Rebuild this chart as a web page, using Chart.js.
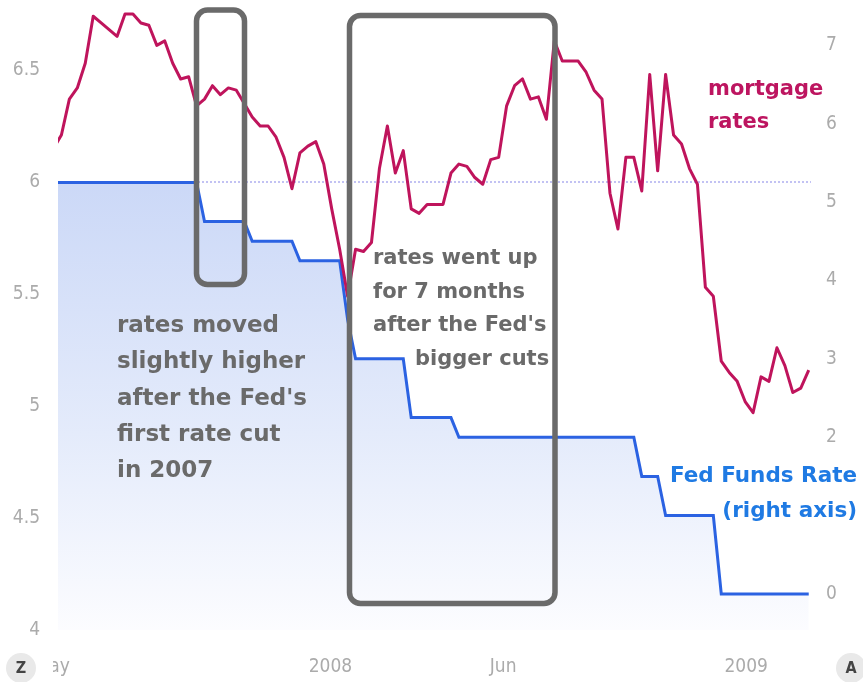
<!DOCTYPE html>
<html>
<head>
<meta charset="utf-8">
<script src="https://cdn.jsdelivr.net/npm/chart.js@4.4.0/dist/chart.umd.min.js"></script>
<style>
html,body{margin:0;padding:0;background:#fff;overflow:hidden}
#wrap{width:863px;height:682px;position:relative}
</style>
</head>
<body>
<div id="wrap"><canvas id="c" width="863" height="682"></canvas></div>
<script>
// ---------- DATA ----------
// Weekly observations (Thursdays), first week:
const firstWeek = '2007-05-10';
// 30-year mortgage rates (left axis), one value per week
const mortgageRates = [
  6.15, 6.21, 6.37, 6.42, 6.53, 6.74, 6.71, 6.68, 6.65, 6.75,
  6.75, 6.71, 6.70, 6.61, 6.63, 6.53, 6.46, 6.47, 6.34, 6.37,
  6.43, 6.39, 6.42, 6.41, 6.35, 6.29, 6.25, 6.25, 6.20, 6.11,
  5.97, 6.13, 6.16, 6.18, 6.08, 5.88, 5.70, 5.49, 5.70, 5.69,
  5.73, 6.06, 6.25, 6.04, 6.14, 5.88, 5.86, 5.90, 5.90, 5.90,
  6.04, 6.08, 6.07, 6.02, 5.99, 6.10, 6.11, 6.34, 6.43, 6.46,
  6.37, 6.38, 6.28, 6.63, 6.54, 6.54, 6.54, 6.49, 6.41, 6.37,
  5.95, 5.79, 6.11, 6.11, 5.96, 6.48, 6.05, 6.48, 6.21, 6.17,
  6.06, 5.99, 5.53, 5.49, 5.20, 5.15, 5.11, 5.02, 4.97, 5.13,
  5.11, 5.26, 5.18, 5.06, 5.08, 5.16
];
// Fed Funds target rate (right axis), same weeks
const fedFundsRate = [
  5.25, 5.25, 5.25, 5.25, 5.25, 5.25, 5.25, 5.25, 5.25, 5.25,
  5.25, 5.25, 5.25, 5.25, 5.25, 5.25, 5.25, 5.25, 5.25, 4.75,
  4.75, 4.75, 4.75, 4.75, 4.75, 4.50, 4.50, 4.50, 4.50, 4.50,
  4.50, 4.25, 4.25, 4.25, 4.25, 4.25, 4.25, 3.50, 3.00, 3.00,
  3.00, 3.00, 3.00, 3.00, 3.00, 2.25, 2.25, 2.25, 2.25, 2.25,
  2.25, 2.00, 2.00, 2.00, 2.00, 2.00, 2.00, 2.00, 2.00, 2.00,
  2.00, 2.00, 2.00, 2.00, 2.00, 2.00, 2.00, 2.00, 2.00, 2.00,
  2.00, 2.00, 2.00, 2.00, 1.50, 1.50, 1.50, 1.00, 1.00, 1.00,
  1.00, 1.00, 1.00, 1.00, 0.00, 0.00, 0.00, 0.00, 0.00, 0.00,
  0.00, 0.00, 0.00, 0.00, 0.00, 0.00
];
// dotted reference level (left axis)
const referenceLevel = 6;
// visible date window
const viewStart = '2007-05-14';
const viewEnd = '2009-03-07';
// x-axis tick labels
const xTickDates = ['2007-05-01', '2008-01-01', '2008-06-01', '2009-01-01'];
const xTickLabels = ['May', '2008', 'Jun', '2009'];
// y-axis ticks
const leftTicks = [4, 4.5, 5, 5.5, 6, 6.5];
const rightTicks = [0, 2, 3, 4, 5, 6, 7];
// annotation texts
const noteLeft = ['rates moved', 'slightly higher', "after the Fed's", 'first rate cut', 'in 2007'];
const noteRight = ['rates went up', 'for 7 months', "after the Fed's", 'bigger cuts'];
const mortgageLabel = ['mortgage', 'rates'];
const fedLabel = ['Fed Funds Rate', '(right axis)'];

// ---------- BUILD ----------
const DAY = 86400000;
const t0 = Date.parse(firstWeek);
const dayOf = s => (Date.parse(s) - t0) / DAY;
const weekX = mortgageRates.map((_, i) => i * 7);
const mortgagePts = mortgageRates.map((v, i) => ({x: weekX[i], y: v}));
const fedPts = fedFundsRate.map((v, i) => ({x: weekX[i], y: v}));
const xMin = dayOf(viewStart), xMax = dayOf(viewEnd);
const refPts = [{x: xMin, y: referenceLevel}, {x: xMax, y: referenceLevel}];

const axisFont = {family: "'DejaVu Sans Condensed','DejaVu Sans',sans-serif", size: 19};
const axisColor = '#ababab';
const noPad = s => { s.paddingTop = 0; s.paddingBottom = 0; s.paddingLeft = 0; s.paddingRight = 0; };

const notes = {
  id: 'notes',
  afterDraw(chart) {
    const c = chart.ctx;
    c.save();
    // boxes
    c.strokeStyle = '#6a6a6a';
    c.lineWidth = 5.5;
    c.beginPath(); c.roundRect(196.5, 10, 48, 274.5, 11); c.stroke();
    c.beginPath(); c.roundRect(349.5, 15.5, 205.5, 588, 11); c.stroke();
    // texts
    c.textBaseline = 'alphabetic';
    c.fillStyle = '#6a6a6a';
    c.textAlign = 'left';
    c.font = "bold 23px 'DejaVu Sans', sans-serif";
    const lb = [332, 368, 405, 441, 477];
    noteLeft.forEach((t, i) => c.fillText(t, 117, lb[i]));
    c.font = "bold 21px 'DejaVu Sans', sans-serif";
    const rb = [264, 298, 331, 365];
    const rx = [373, 373, 373, 415];
    noteRight.forEach((t, i) => c.fillText(t, rx[i], rb[i]));
    c.fillStyle = '#bd1560';
    c.font = "bold 21px 'DejaVu Sans', sans-serif";
    c.fillText(mortgageLabel[0], 708, 95);
    c.fillText(mortgageLabel[1], 708, 128);
    c.fillStyle = '#1f7ae3';
    c.textAlign = 'right';
    c.font = "bold 21.5px 'DejaVu Sans', sans-serif";
    c.fillText(fedLabel[0], 857, 482);
    c.fillText(fedLabel[1], 857, 517);
    // first x label is cut at the plot's left edge
    c.fillStyle = '#fff';
    c.fillRect(0, 645, 53, 37);
    // zoom buttons
    c.textAlign = 'center';
    c.textBaseline = 'middle';
    [[21, 'Z'], [851, 'A']].forEach(([x, s]) => {
      c.beginPath(); c.arc(x, 668, 15, 0, Math.PI * 2);
      c.fillStyle = '#e9e9e9'; c.fill();
      c.fillStyle = '#444';
      c.font = "bold 16px 'DejaVu Sans Condensed','DejaVu Sans',sans-serif";
      c.fillText(s, x, 669);
    });
    c.restore();
  }
};

new Chart(document.getElementById('c'), {
  type: 'line',
  data: {
    datasets: [
      {
        label: 'mortgage rates', data: mortgagePts, yAxisID: 'yL', order: 1,
        borderColor: '#bf145c', borderWidth: 3, pointRadius: 0, tension: 0,
        borderJoinStyle: 'round', fill: false
      },
      {
        label: 'Fed Funds Rate', data: fedPts, yAxisID: 'yR', order: 2,
        borderColor: '#2b62e2', borderWidth: 3, pointRadius: 0, tension: 0,
        fill: 'start',
        backgroundColor: (ctx) => {
          const ch = ctx.chart, a = ch.chartArea;
          if (!a) return 'rgba(210,222,248,0.8)';
          const g = ch.ctx.createLinearGradient(0, 180, 0, a.bottom + 10);
          g.addColorStop(0, 'rgba(203,216,247,1)');
          g.addColorStop(0.55, 'rgba(228,235,251,1)');
          g.addColorStop(1, 'rgba(253,253,255,1)');
          return g;
        }
      },
      {
        label: 'ref', data: refPts, yAxisID: 'yL', order: 3,
        borderColor: 'rgba(175,175,240,1)', borderWidth: 1.5, borderDash: [2, 2],
        pointRadius: 0, fill: false
      }
    ]
  },
  options: {
    responsive: false, animation: false, devicePixelRatio: 1,
    layout: {padding: 0},
    plugins: {legend: {display: false}, tooltip: {enabled: false}},
    scales: {
      x: {
        type: 'linear', min: xMin, max: xMax,
        grid: {display: false, drawTicks: false}, border: {display: false},
        afterBuildTicks: s => { s.ticks = xTickDates.map(d => ({value: dayOf(d)})); },
        afterFit: s => { s.height = 52; noPad(s); },
        ticks: {
          color: axisColor, font: axisFont, padding: 26, labelOffset: 9,
          maxRotation: 0, autoSkip: false,
          callback: (v, i) => xTickLabels[i]
        }
      },
      yL: {
        type: 'linear', position: 'left', min: 4, max: 4 + 630 / 224,
        grid: {display: false, drawTicks: false}, border: {display: false},
        afterBuildTicks: s => { s.ticks = leftTicks.map(v => ({value: v})); },
        afterFit: s => { s.width = 58; noPad(s); },
        ticks: {color: axisColor, font: axisFont, padding: 18, callback: v => String(v)}
      },
      yR: {
        type: 'linear', position: 'right', min: -36 / 78.4, max: 594 / 78.4,
        grid: {display: false, drawTicks: false}, border: {display: false},
        afterBuildTicks: s => { s.ticks = rightTicks.map(v => ({value: v})); },
        afterFit: s => { s.width = 52; noPad(s); },
        ticks: {color: axisColor, font: axisFont, padding: 15, callback: v => String(v)}
      }
    }
  },
  plugins: [notes]
});
</script>
</body>
</html>
